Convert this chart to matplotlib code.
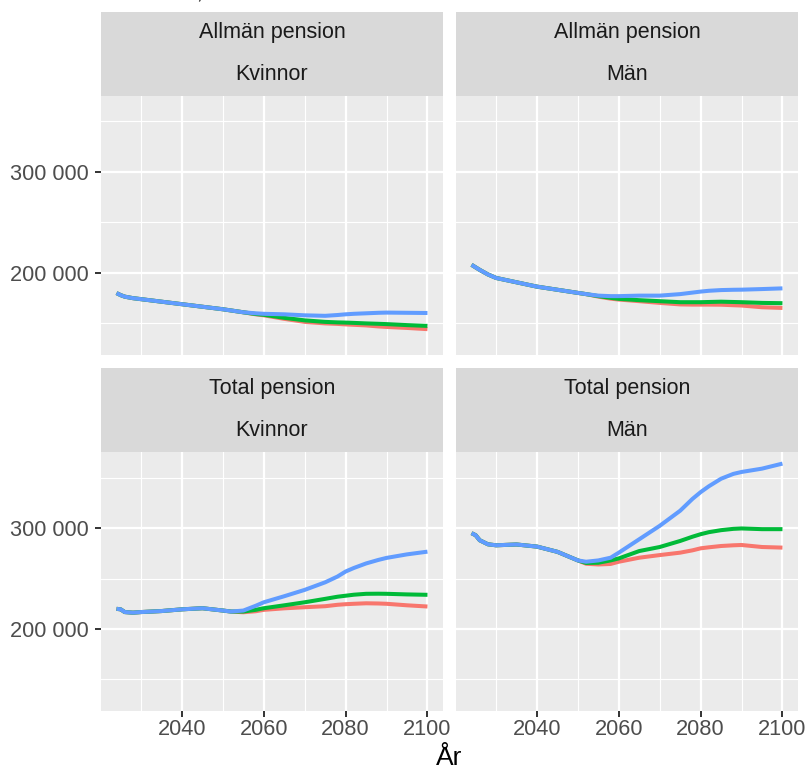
import matplotlib
matplotlib.use("Agg")
import matplotlib.pyplot as plt
from matplotlib.ticker import FuncFormatter, FixedLocator

plt.rcParams['font.family'] = ['Liberation Sans', 'DejaVu Sans']

# ---- data (thousand SEK) ----
years = [2024, 2025, 2026, 2028, 2030, 2035, 2040, 2045, 2050, 2052, 2055, 2058,
         2060, 2065, 2070, 2075, 2078, 2080, 2082, 2085, 2088, 2090, 2095, 2100]

pension_types = ["Allmän pension", "Total pension"]
genders = ["Kvinnor", "Män"]
scenarios = ["Scenario 1", "Scenario 2", "Scenario 3"]

# Allmän pension, Kvinnor
allman_kvinnor_s1 = [180, 178, 176.5, 175, 174, 171.5, 169, 166.5, 164, 162.8, 161, 159,
                     158, 154.5, 151.5, 150, 149.5, 149, 148.6, 148, 147, 146.5, 145.5, 144.3]
allman_kvinnor_s2 = [180, 178, 176.5, 175, 174, 171.5, 169, 166.5, 164, 162.8, 161, 159.3,
                     158.5, 155.5, 153, 151.5, 151, 150.8, 150.5, 150, 149.6, 149.3, 148.3, 147.5]
allman_kvinnor_s3 = [180, 178, 176.5, 175, 174, 171.5, 169, 166.5, 164, 162.8, 161, 160,
                     159.5, 159, 158, 157.5, 158.3, 159, 159.5, 160, 160.5, 160.7, 160.5, 160.3]
# Allmän pension, Män
allman_man_s1 = [208, 205.5, 203, 198.5, 195, 190.7, 186.4, 183.3, 180.2, 179, 176.5, 174.5,
                 173.6, 172, 170.3, 168.8, 168.6, 168.6, 168.6, 168.5, 168, 167.7, 166, 165.3]
allman_man_s2 = [208, 205.5, 203, 198.5, 195, 190.7, 186.4, 183.3, 180.2, 179, 177, 175.3,
                 174.3, 173, 172, 171, 171, 171, 171.2, 171.5, 171.2, 171, 170.3, 170]
allman_man_s3 = [208, 205.5, 203, 198.5, 195, 190.7, 186.4, 183.3, 180.2, 179, 177.5, 177,
                 177, 177.5, 177.5, 179, 180.5, 181.5, 182.3, 183, 183.3, 183.4, 184, 184.7]
# Total pension, Kvinnor
total_kvinnor_s1 = [220, 219.5, 216.8, 216.2, 216.8, 217.8, 219.5, 220.6, 218.3, 217.3, 216.6, 217.6,
                    219, 220.5, 221.6, 222.6, 224, 224.6, 225, 225.5, 225.3, 225, 223.5, 222.3]
total_kvinnor_s2 = [220, 219.5, 216.8, 216.2, 216.8, 217.8, 219.5, 220.6, 218.3, 217.3, 217.3, 219,
                    220.6, 223.5, 226.5, 229.9, 232, 233, 234, 234.9, 235, 234.9, 234.3, 233.9]
total_kvinnor_s3 = [220, 219.5, 216.8, 216.2, 216.8, 217.8, 219.5, 220.6, 218.3, 217.3, 218.3, 223,
                    226.5, 232.5, 238.8, 246.3, 252, 257, 260.5, 265, 268.5, 270.5, 274, 276.7]
# Total pension, Män
total_man_s1 = [295, 293, 288, 284, 283, 283.8, 281.7, 276.5, 268, 264.7, 264, 264.5,
                266.7, 270.7, 273.3, 275.7, 278, 280, 281, 282.3, 283, 283.3, 281.3, 280.7]
total_man_s2 = [295, 293, 288, 284, 283, 283.8, 281.7, 276.5, 268, 265.5, 265.7, 268,
                270, 277.3, 281.3, 287.3, 291.5, 294, 296, 298, 299.3, 299.7, 299, 299]
total_man_s3 = [295, 293, 288, 284, 283, 283.8, 281.7, 276.5, 268, 266.7, 268, 270.7,
                275.7, 289, 302.3, 317.3, 329, 335.7, 341.5, 349, 353.8, 355.7, 359, 364]

panel_data = {
    ("Allmän pension", "Kvinnor"): [allman_kvinnor_s1, allman_kvinnor_s2, allman_kvinnor_s3],
    ("Allmän pension", "Män"): [allman_man_s1, allman_man_s2, allman_man_s3],
    ("Total pension", "Kvinnor"): [total_kvinnor_s1, total_kvinnor_s2, total_kvinnor_s3],
    ("Total pension", "Män"): [total_man_s1, total_man_s2, total_man_s3],
}

x_ticks = [2040, 2060, 2080, 2100]
y_ticks = [200000, 300000]

colors = ["#F8766D", "#00BA38", "#619CFF"]

W, H = 807, 770
fig = plt.figure(figsize=(W / 100, H / 100), dpi=100)


def rect(l, t, r, b):
    return [l / W, 1 - b / H, (r - l) / W, (b - t) / H]


col_x = [(101, 443), (456, 798)]
row_y = [((12, 95.7), (95.7, 354.7)), ((368, 452), (452, 710.7))]

fmt = FuncFormatter(lambda v, p: f"{int(round(v)):,}".replace(",", " "))

for ri, ptype in enumerate(pension_types):
    (st, sb), (pt, pb) = row_y[ri]
    for ci, g in enumerate(genders):
        l, r = col_x[ci]
        # strip
        sax = fig.add_axes(rect(l, st, r, sb))
        sax.set_facecolor("#D9D9D9")
        sax.set_xticks([]); sax.set_yticks([])
        for s in sax.spines.values():
            s.set_visible(False)
        sax.text(0.5, 0.75, ptype, ha="center", va="center", fontsize=15.5,
                 color="#1A1A1A", transform=sax.transAxes)
        sax.text(0.5, 0.25, g, ha="center", va="center", fontsize=15.5,
                 color="#1A1A1A", transform=sax.transAxes)
        # panel
        ax = fig.add_axes(rect(l, pt, r, pb))
        ax.set_facecolor("#EBEBEB")
        for s in ax.spines.values():
            s.set_visible(False)
        ax.set_axisbelow(True)
        for k, vals in enumerate(panel_data[(ptype, g)]):
            ax.plot(years, [v * 1000 for v in vals], color=colors[k], lw=2.9,
                    solid_capstyle="butt", solid_joinstyle="round",
                    label=scenarios[k])
        ax.set_xlim(2020.2, 2103.8)
        ax.set_ylim(119000, 375500)
        ax.xaxis.set_major_locator(FixedLocator(x_ticks))
        ax.xaxis.set_minor_locator(FixedLocator([2030, 2050, 2070, 2090]))
        ax.yaxis.set_major_locator(FixedLocator(y_ticks))
        ax.yaxis.set_minor_locator(FixedLocator([150000, 250000, 350000]))
        ax.grid(which="major", color="white", lw=1.65)
        ax.grid(which="minor", color="white", lw=0.85)
        ax.yaxis.set_major_formatter(fmt)
        ax.tick_params(which="minor", length=0)
        ax.tick_params(which="major", length=4.6, width=1.4, color="#333333",
                       labelsize=15.7, labelcolor="#4D4D4D")
        ax.tick_params(axis="y", pad=4)
        ax.tick_params(axis="x", pad=1.5)
        if ci == 1:
            ax.tick_params(axis="y", length=0, labelleft=False)
        if ri == 0:
            ax.tick_params(axis="x", length=0, labelbottom=False)

fig.text(449.5 / W, 1 - 758 / H, "År", ha="center", va="center", fontsize=19,
         color="black")
fig.text(199 / W, 1 + 1.5 / H, ",", ha="center", va="baseline", fontsize=15,
         color="black")

fig.savefig("out.png", dpi=100)
